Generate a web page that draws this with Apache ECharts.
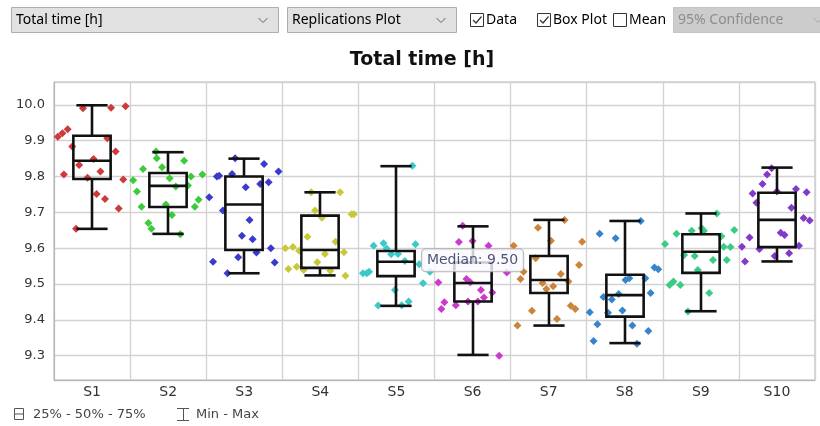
<!DOCTYPE html>
<html>
<head>
<meta charset="utf-8">
<script src="https://cdn.jsdelivr.net/npm/echarts@6/dist/echarts.min.js"></script>
<style>
  html, body { margin: 0; padding: 0; background: #ffffff; }
  #chart { width: 820px; height: 426px; }
</style>
</head>
<body>
<div id="chart"></div>
<script>
// ---------- data ----------
const categories = ['S1', 'S2', 'S3', 'S4', 'S5', 'S6', 'S7', 'S8', 'S9', 'S10'];
const yTickLabels = [9.3, 9.4, 9.5, 9.6, 9.7, 9.8, 9.9, 10.0];

// box plot statistics (min, 25%, 50%, 75%, max)
const boxMin    = [9.654, 9.640, 9.530, 9.524, 9.439, 9.302, 9.384, 9.335, 9.424, 9.563];
const boxQ1     = [9.793, 9.715, 9.595, 9.545, 9.522, 9.451, 9.475, 9.409, 9.531, 9.603];
const boxMedian = [9.844, 9.774, 9.722, 9.595, 9.562, 9.503, 9.511, 9.469, 9.590, 9.679];
const boxQ3     = [9.914, 9.810, 9.800, 9.691, 9.592, 9.560, 9.578, 9.526, 9.639, 9.755];
const boxMax    = [9.999, 9.868, 9.850, 9.756, 9.829, 9.661, 9.679, 9.676, 9.697, 9.825];

// replication values per scenario and their horizontal jitter (in category units)
const s1Values  = [9.991, 9.992, 9.996, 9.932, 9.921, 9.911, 9.884, 9.870, 9.907, 9.849, 9.832, 9.814, 9.806, 9.797, 9.792, 9.751, 9.737, 9.711, 9.654];
const s1Jitter  = [-0.12, 0.25, 0.44, -0.32, -0.39, -0.45, -0.26, 0.31, 0.20, 0.02, -0.17, 0.11, -0.37, -0.06, 0.41, 0.06, 0.17, 0.35, -0.21];
const s2Values  = [9.870, 9.851, 9.844, 9.826, 9.821, 9.795, 9.800, 9.806, 9.790, 9.772, 9.775, 9.758, 9.716, 9.722, 9.735, 9.716, 9.693, 9.670, 9.654, 9.639];
const s2Jitter  = [-0.16, -0.15, 0.21, -0.08, -0.33, 0.02, 0.30, 0.45, -0.46, 0.10, 0.26, -0.41, -0.35, -0.03, 0.40, 0.35, 0.05, -0.26, -0.22, 0.16];
const s3Values  = [9.851, 9.835, 9.814, 9.800, 9.802, 9.807, 9.770, 9.779, 9.784, 9.742, 9.705, 9.679, 9.635, 9.625, 9.600, 9.588, 9.575, 9.562, 9.560, 9.530];
const s3Jitter  = [-0.12, 0.26, 0.45, -0.36, -0.33, -0.16, 0.02, 0.21, 0.32, -0.46, -0.28, 0.07, -0.03, 0.11, 0.35, 0.16, -0.08, -0.41, 0.40, -0.22];
const s4Values  = [9.756, 9.756, 9.705, 9.685, 9.695, 9.695, 9.632, 9.618, 9.600, 9.603, 9.593, 9.589, 9.584, 9.561, 9.548, 9.542, 9.539, 9.537, 9.523];
const s4Jitter  = [-0.12, 0.26, -0.07, 0.02, 0.41, 0.44, -0.17, 0.20, -0.46, -0.36, -0.28, 0.31, 0.06, -0.04, -0.31, -0.42, -0.22, 0.13, 0.33];
const s5Values  = [9.830, 9.614, 9.607, 9.611, 9.583, 9.584, 9.564, 9.555, 9.530, 9.530, 9.534, 9.502, 9.483, 9.440, 9.441, 9.451, 9.599, 9.534];
const s5Jitter  = [0.21, -0.17, -0.30, 0.25, -0.07, 0.02, 0.11, 0.30, -0.44, -0.39, -0.36, 0.35, -0.02, -0.24, 0.07, 0.16, -0.13, 0.44];
const s6Values  = [9.663, 9.617, 9.620, 9.607, 9.532, 9.504, 9.514, 9.505, 9.483, 9.476, 9.449, 9.441, 9.451, 9.451, 9.462, 9.430, 9.300];
const s6Jitter  = [-0.13, -0.18, 0.00, 0.21, 0.45, -0.45, -0.08, -0.03, 0.11, 0.26, -0.37, -0.22, -0.06, 0.07, 0.15, -0.41, 0.35];
const s7Values  = [9.679, 9.657, 9.621, 9.618, 9.607, 9.572, 9.553, 9.534, 9.528, 9.514, 9.503, 9.494, 9.486, 9.507, 9.425, 9.439, 9.430, 9.402, 9.384];
const s7Jitter  = [0.21, -0.14, 0.03, 0.44, -0.46, -0.17, 0.40, -0.33, 0.16, -0.37, -0.08, 0.06, -0.03, 0.26, -0.22, 0.29, 0.35, 0.11, -0.41];
const s8Values  = [9.676, 9.640, 9.628, 9.546, 9.541, 9.511, 9.516, 9.516, 9.475, 9.472, 9.464, 9.457, 9.426, 9.421, 9.420, 9.388, 9.384, 9.369, 9.341, 9.333];
const s8Jitter  = [0.21, -0.33, -0.12, 0.39, 0.44, 0.01, 0.06, 0.27, 0.34, -0.08, -0.28, -0.17, -0.03, -0.46, -0.22, -0.36, 0.10, 0.31, -0.41, 0.16];
const s9Values  = [9.697, 9.656, 9.649, 9.649, 9.640, 9.651, 9.612, 9.633, 9.604, 9.603, 9.581, 9.578, 9.567, 9.567, 9.539, 9.497, 9.507, 9.497, 9.475, 9.423];
const s9Jitter  = [0.21, 0.01, 0.04, -0.12, -0.32, 0.44, -0.47, 0.27, 0.30, 0.39, -0.22, -0.08, 0.16, 0.34, -0.04, -0.41, -0.36, -0.27, 0.11, -0.17];
const s10Values = [9.823, 9.806, 9.779, 9.753, 9.727, 9.765, 9.756, 9.758, 9.713, 9.684, 9.677, 9.643, 9.637, 9.630, 9.604, 9.607, 9.598, 9.578, 9.586, 9.563];
const s10Jitter = [-0.07, -0.13, -0.19, -0.32, -0.27, 0.25, 0.39, 0.00, 0.19, 0.35, 0.43, 0.05, 0.10, -0.36, -0.46, 0.29, -0.23, -0.03, 0.16, -0.42];

// highlighted median annotation
const medianLabelCategory = 5;      // S6
const medianLabelAnchor = 9.566;    // value level where the label box sits

// ---------- styles ----------
const pointColors = ['#cc3a3a', '#3ccc3a', '#3a3acc', '#c8c83a', '#3ac8c8', '#cc3acc', '#cc8438', '#3884cc', '#3acc84', '#8438cc'];
const allValues = [s1Values, s2Values, s3Values, s4Values, s5Values, s6Values, s7Values, s8Values, s9Values, s10Values];
const allJitter = [s1Jitter, s2Jitter, s3Jitter, s4Jitter, s5Jitter, s6Jitter, s7Jitter, s8Jitter, s9Jitter, s10Jitter];

const AXIS_FONT = '"DejaVu Sans", Verdana, sans-serif';
const UI_FONT = '"Noto Sans", "Open Sans", sans-serif';

// ---------- series ----------
const scatterSeries = categories.map((c, i) => ({
  name: c,
  type: 'scatter',
  xAxisIndex: 1,
  yAxisIndex: 0,
  symbol: 'diamond',
  symbolSize: [8, 8],
  itemStyle: { color: pointColors[i], opacity: 1 },
  silent: true,
  z: 2,
  data: allValues[i].map((v, k) => [i + allJitter[i][k], v])
}));

const boxData = categories.map((c, i) => [i, boxMin[i], boxQ1[i], boxMedian[i], boxQ3[i], boxMax[i]]);

function renderBox(params, api) {
  const idx = api.value(0);
  const pMin = api.coord([idx, api.value(1)]);
  const pQ1 = api.coord([idx, api.value(2)]);
  const pMed = api.coord([idx, api.value(3)]);
  const pQ3 = api.coord([idx, api.value(4)]);
  const pMax = api.coord([idx, api.value(5)]);
  const band = api.size([1, 0])[0];
  const bw = band * 0.49;
  const cw = band * 0.41;
  const cx = Math.round(pMed[0]);
  const st = { stroke: '#111111', lineWidth: 2.6, fill: null };
  return {
    type: 'group',
    children: [
      { type: 'line', shape: { x1: cx, y1: pQ3[1], x2: cx, y2: pMax[1] }, style: st },
      { type: 'line', shape: { x1: cx, y1: pQ1[1], x2: cx, y2: pMin[1] }, style: st },
      { type: 'line', shape: { x1: cx - cw / 2, y1: pMax[1], x2: cx + cw / 2, y2: pMax[1] }, style: st },
      { type: 'line', shape: { x1: cx - cw / 2, y1: pMin[1], x2: cx + cw / 2, y2: pMin[1] }, style: st },
      { type: 'rect', shape: { x: cx - bw / 2, y: pQ3[1], width: bw, height: pQ1[1] - pQ3[1] }, style: { stroke: '#111111', lineWidth: 2.6, fill: 'none' } },
      { type: 'line', shape: { x1: cx - bw / 2, y1: pMed[1], x2: cx + bw / 2, y2: pMed[1] }, style: st }
    ]
  };
}

// ---------- UI decoration (controls + legend) ----------
const graphics = [];
function combo(x, w, text, disabled) {
  graphics.push({ type: 'rect', shape: { x: x + 0.5, y: 7.5, width: w, height: 25 },
    style: { fill: disabled ? '#cccccc' : '#e1e1e1', stroke: disabled ? '#c4c4c4' : '#adadad', lineWidth: 1 } });
  graphics.push({ type: 'text', x: x + 5, y: 20.5,
    style: { text: text, font: '14px ' + UI_FONT, fill: disabled ? '#8d8d8d' : '#000000', verticalAlign: 'middle' } });
  const cx = x + w - 15;
  graphics.push({ type: 'polyline', shape: { points: [[cx - 4.5, 18], [cx, 22.5], [cx + 4.5, 18]] },
    style: { stroke: disabled ? '#a8a8a8' : '#606060', lineWidth: 1, fill: null } });
}
function checkbox(x, text, checked) {
  graphics.push({ type: 'rect', shape: { x: x + 0.5, y: 13.5, width: 13, height: 13 },
    style: { fill: '#ffffff', stroke: '#333333', lineWidth: 1 } });
  if (checked) {
    graphics.push({ type: 'polyline', shape: { points: [[x + 3, 20], [x + 6, 23], [x + 11.5, 16.5]] },
      style: { stroke: '#333333', lineWidth: 1.2, fill: null } });
  }
  graphics.push({ type: 'text', x: x + 16, y: 20.5,
    style: { text: text, font: '14px ' + UI_FONT, fill: '#000000', verticalAlign: 'middle' } });
}
combo(11, 267, 'Total time [h]', false);
combo(287, 169, 'Replications Plot', false);
checkbox(470, 'Data', true);
checkbox(537, 'Box Plot', true);
checkbox(613, 'Mean', false);
combo(673, 160, '95% Confidence', true);

// bottom legend
graphics.push({ type: 'rect', shape: { x: 14.5, y: 408.5, width: 9, height: 11 }, style: { fill: 'none', stroke: '#555555', lineWidth: 1 } });
graphics.push({ type: 'line', shape: { x1: 14.5, y1: 414, x2: 23.5, y2: 414 }, style: { stroke: '#555555', lineWidth: 1 } });
graphics.push({ type: 'text', x: 33, y: 414.5, style: { text: '25% - 50% - 75%', font: '13px ' + AXIS_FONT, fill: '#444444', verticalAlign: 'middle' } });
graphics.push({ type: 'line', shape: { x1: 177, y1: 408.5, x2: 189, y2: 408.5 }, style: { stroke: '#555555', lineWidth: 1 } });
graphics.push({ type: 'line', shape: { x1: 183.5, y1: 408.5, x2: 183.5, y2: 420.5 }, style: { stroke: '#555555', lineWidth: 1 } });
graphics.push({ type: 'line', shape: { x1: 177, y1: 420.5, x2: 189, y2: 420.5 }, style: { stroke: '#555555', lineWidth: 1 } });
graphics.push({ type: 'text', x: 196, y: 414.5, style: { text: 'Min - Max', font: '13px ' + AXIS_FONT, fill: '#444444', verticalAlign: 'middle' } });

// ---------- chart ----------
const chart = echarts.init(document.getElementById('chart'), null, { renderer: 'canvas' });
chart.setOption({
  animation: false,
  backgroundColor: '#ffffff',
  title: {
    text: 'Total time [h]',
    left: 417, top: 46, textAlign: 'center',
    textStyle: { fontFamily: AXIS_FONT, fontWeight: 'bold', fontSize: 19, color: '#111111' }
  },
  grid: { left: 54, right: 5, top: 82, bottom: 46, show: true, borderColor: '#b4b4b4', borderWidth: 1, backgroundColor: 'transparent' },
  xAxis: [
    {
      type: 'category', data: categories, boundaryGap: true,
      axisLine: { show: true, onZero: false, lineStyle: { color: '#b4b4b4', width: 1 } },
      axisTick: { show: false },
      splitLine: { show: true, lineStyle: { color: '#d2d2d2', width: 1.3 } },
      axisLabel: { color: '#333333', fontFamily: AXIS_FONT, fontSize: 14, margin: 5 }
    },
    { type: 'value', min: -0.5, max: 9.5, show: false, axisLine: { onZero: false } }
  ],
  yAxis: {
    type: 'value', min: 9.232, max: 10.064, splitNumber: 8, scale: true,
    axisLine: { show: true, onZero: false, lineStyle: { color: '#b4b4b4', width: 1 } },
    axisTick: { show: false },
    splitLine: { show: true, lineStyle: { color: '#d2d2d2', width: 1.3 } },
    axisLabel: {
      color: '#333333', fontFamily: AXIS_FONT, fontSize: 13, margin: 9,
      showMinLabel: false, showMaxLabel: false,
      formatter: v => yTickLabels.some(t => Math.abs(t - v) < 1e-6) ? v.toFixed(1) : ''
    }
  },
  graphic: graphics,
  series: [
    ...scatterSeries,
    {
      type: 'custom', name: 'Box Plot', xAxisIndex: 0, yAxisIndex: 0,
      renderItem: renderBox, data: boxData, z: 5, silent: true,
      encode: { x: 0, y: [1, 2, 3, 4, 5] }
    },
    {
      type: 'scatter', name: 'median-label', xAxisIndex: 1, yAxisIndex: 0,
      symbolSize: 0, silent: true, z: 10,
      data: [[medianLabelCategory, medianLabelAnchor]],
      label: {
        show: true, position: 'inside',
        formatter: () => 'Median: ' + boxMedian[medianLabelCategory].toFixed(2),
        fontFamily: AXIS_FONT, fontSize: 14, color: '#1f2550',
        backgroundColor: '#fafaff', borderColor: '#a6a6a6', borderWidth: 1, borderRadius: 4,
        padding: [4, 5, 4, 5]
      }
    }
  ]
});
</script>
</body>
</html>
